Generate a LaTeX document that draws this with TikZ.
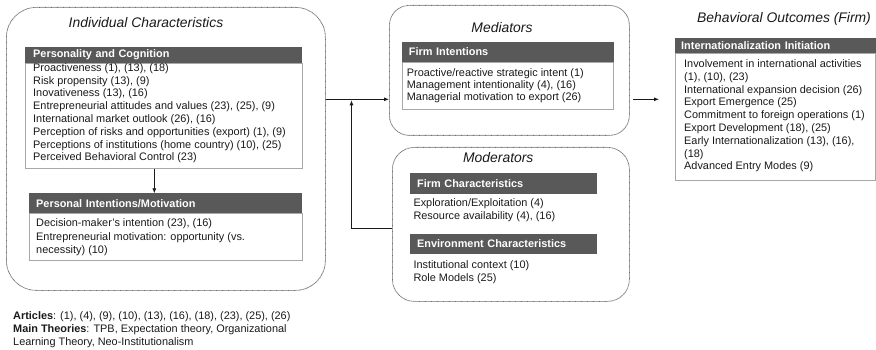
\documentclass[tikz,border=0pt]{standalone}
\usepackage{fontspec}
\setmainfont{Liberation Sans}
\usetikzlibrary{arrows.meta,calc}
\definecolor{hdr}{HTML}{595959}
\definecolor{ink}{HTML}{1A1A1A}
\definecolor{bodyline}{HTML}{A8A8A8}
\definecolor{grpline}{HTML}{6E6E6E}
\begin{document}
\begin{tikzpicture}[x=1pt,y=-1pt,
  group/.style={draw=grpline, dash pattern=on 0.7pt off 0.5pt, line width=0.8pt, rounded corners=#1, inner sep=0pt, anchor=north west},
  grptitle/.style={anchor=base, inner sep=0pt, text=ink, font=\fontsize{13.9}{15}\selectfont\itshape},
  hdrbox/.style={fill=hdr, text=white, anchor=north west, inner ysep=0pt, align=left, font=\fontsize{10.9}{12}\selectfont\bfseries},
  bodybox/.style={draw=bodyline, fill=white, line width=0.8pt, anchor=north west, inner sep=0pt},
  bodytext/.style={anchor=north west, inner sep=0pt, align=left, text=ink, font=\fontsize{10.9}{#1}\selectfont},
  conn/.style={draw=ink, line width=0.8pt},
  arr/.style={conn, -{Latex[length=5pt,width=4pt]}}
]
\useasboundingbox (0,0) rectangle (876,350);

% ---------- Individual Characteristics ----------
\node[group=30pt, minimum width=319pt, minimum height=283pt] (indiv) at (6,7) {};
\node[grptitle] (indivT) at (146,27.3) {Individual Characteristics};

\node[hdrbox, minimum width=277pt, minimum height=16pt, text width=261pt, inner xsep=8pt] (pchdr) at (25,47) {Personality and Cognition};
\node[bodybox, minimum width=277pt, minimum height=105.3pt] (pcbody) at (25,63) {};
\node[bodytext=12.8] (pctext) at (33,63.2) {Proactiveness (1), (13), (18)\\
Risk propensity (13), (9)\\
Inovativeness (13), (16)\\
Entrepreneurial attitudes and values (23), (25), (9)\\
International market outlook (26), (16)\\
Perception of risks and opportunities (export) (1), (9)\\
Perceptions of institutions (home country) (10), (25)\\
Perceived Behavioral Control (23)};

\node[hdrbox, minimum width=273pt, minimum height=20pt, text width=259pt, inner xsep=7pt] (pihdr) at (29,193.3) {Personal Intentions/Motivation};
\node[bodybox, minimum width=273pt, minimum height=46.7pt] (pibody) at (29,213.3) {};
\node[bodytext=13.1] (pitext) at (36,218.9) {Decision-maker's intention (23), (16)\\
Entrepreneurial motivation: opportunity (vs.\\
necessity) (10)};

% ---------- Mediators ----------
\node[group=20pt, minimum width=240pt, minimum height=130pt] (med) at (389,5) {};
\node[grptitle] (medT) at (502,32.3) {Mediators};
\node[hdrbox, minimum width=212pt, minimum height=20pt, text width=198pt, inner xsep=7pt] (fihdr) at (401.7,41.7) {Firm Intentions};
\node[bodybox, minimum width=211.3pt, minimum height=47.3pt] (fibody) at (401.7,61.7) {};
\node[bodytext=11.8] (fitext) at (406.7,68.9) {Proactive/reactive strategic intent (1)\\
Management intentionality (4), (16)\\
Managerial motivation to export (26)};

% ---------- Moderators ----------
\node[group=22pt, minimum width=237pt, minimum height=154pt] (mod) at (392,147) {};
\node[grptitle] (modT) at (498.3,162.3) {Moderators};
\node[hdrbox, minimum width=187pt, minimum height=20.7pt, text width=173pt, inner xsep=7pt] (fchdr) at (410,173.3) {Firm Characteristics};
\node[bodytext=12.7] (fctext) at (413.3,198.9) {Exploration/Exploitation (4)\\
Resource availability (4), (16)};
\node[hdrbox, minimum width=187pt, minimum height=20pt, text width=173pt, inner xsep=7pt] (echdr) at (410,233.3) {Environment Characteristics};
\node[bodytext=12.3] (ectext) at (413.3,260.9) {Institutional context (10)\\
Role Models (25)};

% ---------- Behavioral Outcomes ----------
\node[grptitle] (boT) at (784,22.3) {Behavioral Outcomes (Firm)};
\node[hdrbox, minimum width=201pt, minimum height=15pt, text width=189pt, inner xsep=6pt] (iihdr) at (675,38.3) {Internationalization Initiation};
\node[bodybox, minimum width=200pt, minimum height=126.7pt] (iibody) at (675,53.3) {};
\node[bodytext=12.8] (iitext) at (684,59.5) {Involvement in international activities\\
(1), (10), (23)\\
International expansion decision (26)\\
Export Emergence (25)\\
Commitment to foreign operations (1)\\
Export Development (18), (25)\\
Early Internationalization (13), (16),\\
(18)\\
Advanced Entry Modes (9)};

% ---------- Footnote ----------
\node[bodytext=13] (notes) at (13,311.2) {\textbf{Articles}: (1), (4), (9), (10), (13), (16), (18), (23), (25), (26)\\
\textbf{Main Theories}: TPB, Expectation theory, Organizational\\
Learning Theory, Neo-Institutionalism};

% ---------- Connectors ----------
\coordinate (j) at (351.5,99.3);
\coordinate (fb) at (351.5,228);
\coordinate (dx) at (154.3,0);
\coordinate (oe) at (659,99.3);
\draw[arr] (indiv.east |- j) -- (med.west |- j);
\draw[arr, shorten >=1pt] (mod.west |- fb) -- (fb) -- (j);
\draw[arr] (pcbody.south -| dx) -- (pihdr.north -| dx);
\draw[arr, shorten <=3pt] (med.east |- j) -- (oe);
\end{tikzpicture}
\end{document}
